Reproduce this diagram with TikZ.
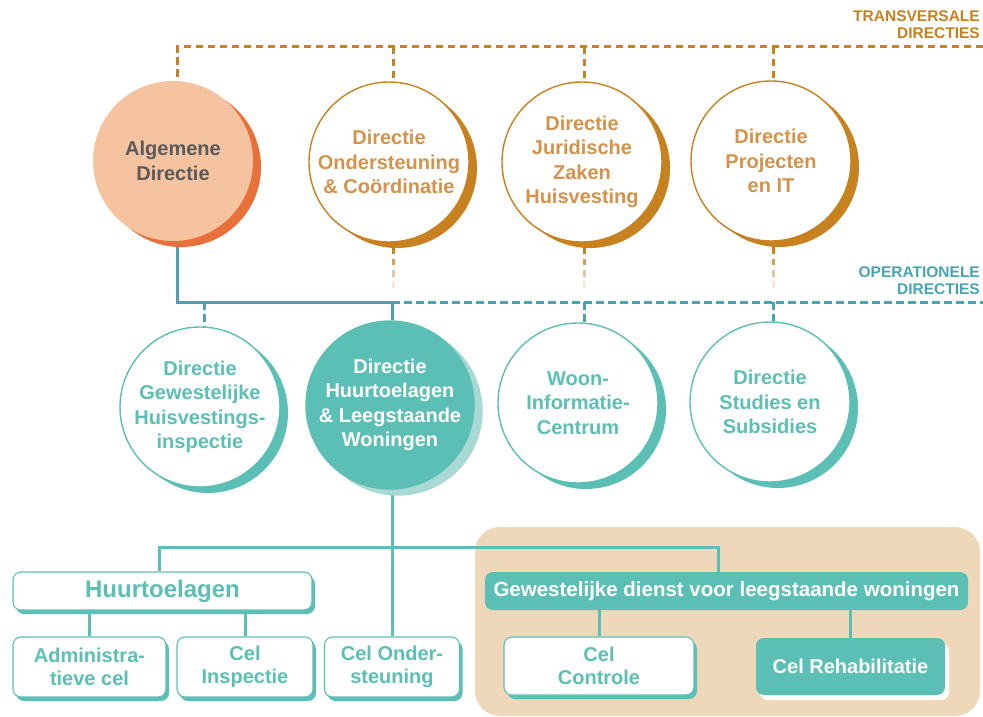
\documentclass[tikz,border=0pt]{standalone}
\usepackage{fontspec}
\setmainfont{Liberation Sans}
\usetikzlibrary{shadows}
\definecolor{oline}{HTML}{C8811F}
\definecolor{otext}{HTML}{D4924A}
\definecolor{algfill}{HTML}{F5C3A0}
\definecolor{algsh}{HTML}{E8703A}
\definecolor{gtext}{HTML}{58595B}
\definecolor{teal1}{HTML}{5BBFB5}
\definecolor{tealsh}{HTML}{A9D9D4}
\definecolor{opblue}{HTML}{48A4B4}
\definecolor{beige}{HTML}{EFD7B9}
\pgfdeclarelayer{back}
\pgfdeclarelayer{bg}
\pgfsetlayers{back,bg,main}
\begin{document}
\begin{tikzpicture}[x=1pt,y=-1pt,
  circtxt/.style={font=\fontsize{20}{24.5}\selectfont\bfseries, align=center},
  dircirc/.style={circle, minimum size=160pt, inner sep=0pt, circtxt},
  topcirc/.style={dircirc, draw=oline, line width=1.4pt, fill=white, text=otext,
    drop shadow={shadow xshift=8pt, shadow yshift=-6pt, opacity=1, fill=oline}},
  opcirc/.style={dircirc, draw=teal1, line width=1.4pt, fill=white, text=teal1,
    drop shadow={shadow xshift=8pt, shadow yshift=-6pt, opacity=1, fill=teal1}},
  boxtxt/.style={font=\fontsize{20}{23.5}\selectfont\bfseries, align=center},
  wbox/.style={rectangle, rounded corners=8pt, draw=teal1, line width=1.1pt, fill=white,
    text=teal1, inner sep=0pt, boxtxt,
    drop shadow={shadow xshift=3pt, shadow yshift=-4pt, opacity=1, fill=teal1}},
  tbox/.style={rectangle, rounded corners=8pt, fill=teal1, text=white, inner sep=0pt, boxtxt},
  tdash/.style={draw=oline, line width=3pt, dash pattern=on 7.5pt off 4.5pt},
  opdash/.style={draw=opblue, line width=3pt, dash pattern=on 7.5pt off 4.5pt},
  opsolid/.style={draw=opblue, line width=3pt},
  tline/.style={draw=teal1, line width=3pt},
  lbl/.style={font=\fontsize{15.5}{17}\selectfont\bfseries, align=right, inner sep=0pt}
]
\useasboundingbox (0,0) rectangle (983,717);
\begin{pgfonlayer}{back}
  \fill[white] (0,0) rectangle (983,717);
  \fill[beige, rounded corners=25pt] (475,527) rectangle (980,716);
\end{pgfonlayer}

% labels
\node[lbl, text=oline, anchor=north east] (lt) at (980,10) {TRANSVERSALE\\DIRECTIES};
\node[lbl, text=opblue, anchor=north east] (lo) at (980,266) {OPERATIONELE\\DIRECTIES};

% top row circles
\node[dircirc, fill=algfill, text=gtext,
  drop shadow={shadow xshift=8pt, shadow yshift=-6pt, opacity=1, fill=algsh}]
  (alg) at (173,161) {Algemene\\Directie};
\node[topcirc] (ond) at (389,162) {Directie\\Ondersteuning\\\& Coördinatie};
\node[topcirc] (jur) at (582,162) {Directie\\Juridische\\Zaken\\Huisvesting};
\node[topcirc] (proj) at (771,161) {Directie\\Projecten\\en IT};

% second row circles
\node[opcirc] (gew) at (200,407) {Directie\\Gewestelijke\\Huisvestings-\\inspectie};
\node[dircirc, fill=teal1, text=white,
  drop shadow={shadow xshift=8pt, shadow yshift=-6pt, opacity=1, fill=tealsh}]
  (huur) at (390,405) {Directie\\Huurtoelagen\\\& Leegstaande\\Woningen};
\node[opcirc] (woon) at (578,403) {Woon-\\Informatie-\\Centrum};
\node[opcirc] (stud) at (770,402) {Directie\\Studies en\\Subsidies};

% boxes
\node[wbox, minimum width=299pt, minimum height=38pt,
  font=\fontsize{24}{28}\selectfont\bfseries] (htb) at (162.5,591) {Huurtoelagen};
\node[wbox, minimum width=153pt, minimum height=60pt] (adm) at (89.5,667) {Administra-\\tieve cel};
\node[wbox, minimum width=136pt, minimum height=60pt] (insp) at (245,667) {Cel\\Inspectie};
\node[wbox, minimum width=135pt, minimum height=60pt] (celond) at (392,667) {Cel Onder-\\steuning};
\node[tbox, minimum width=483pt, minimum height=38pt,
  font=\fontsize{20.5}{24}\selectfont\bfseries] (gd) at (726.5,591) {Gewestelijke dienst voor leegstaande woningen};
\node[wbox, minimum width=190pt, minimum height=58pt] (ctl) at (599,666) {Cel\\Controle};
\node[tbox, minimum width=189pt, minimum height=57pt,
  drop shadow={shadow xshift=4pt, shadow yshift=-5pt, opacity=1, fill=white}]
  (reh) at (850.5,666.5) {Cel Rehabilitatie};

\begin{pgfonlayer}{bg}
  % transversal dashed line
  \coordinate (tL) at (177,47);
  \coordinate (tR) at (983,47);
  \coordinate (t2) at (393,47);
  \coordinate (t3) at (584,47);
  \coordinate (t4) at (773,47);
  \draw[tdash] (tR) -- (tL) -- (tL |- alg.north);
  \draw[tdash] (t2) -- (t2 |- ond.north);
  \draw[tdash] (t3) -- (t3 |- jur.north);
  \draw[tdash] (t4) -- (t4 |- proj.north);
  % fading dashes below top circles
  \foreach \x in {393,584,773} {
    \draw[oline, line width=3pt] (\x,244) -- (\x,254);
    \draw[oline, line width=3pt, opacity=0.75] (\x,259) -- (\x,265);
    \draw[oline, line width=3pt, opacity=0.45] (\x,270) -- (\x,277);
    \draw[oline, line width=3pt, opacity=0.18] (\x,281) -- (\x,288);
  }
  % operational line
  \coordinate (o1) at (177,302);
  \coordinate (o2) at (392,302);
  \coordinate (o3) at (983,302);
  \coordinate (og) at (204,302);
  \coordinate (ow) at (584,302);
  \coordinate (os) at (773,302);
  \draw[opsolid] (o1 |- alg.south) -- (o1) -- (o2);
  \draw[opdash] (o2) -- (o3);
  \draw[opdash] (og) -- (og |- gew.north);
  \draw[opsolid] (o2) -- (o2 |- huur.north);
  \draw[opdash] (ow) -- (ow |- woon.north);
  \draw[opdash] (os) -- (os |- stud.north);
  % sub tree
  \coordinate (hL) at (159,547);
  \coordinate (hR) at (718,547);
  \draw[tline] (celond.north |- huur.south) -- (celond.north);
  \draw[tline] (hL |- htb.north) -- (hL) -- (hR) -- (hR |- gd.north);
  \draw[tline] (adm.north) -- (adm.north |- htb.south);
  \draw[tline] (insp.north) -- (insp.north |- htb.south);
  \draw[tline] (ctl.north) -- (ctl.north |- gd.south);
  \draw[tline] (reh.north) -- (reh.north |- gd.south);
\end{pgfonlayer}
\end{tikzpicture}
\end{document}
